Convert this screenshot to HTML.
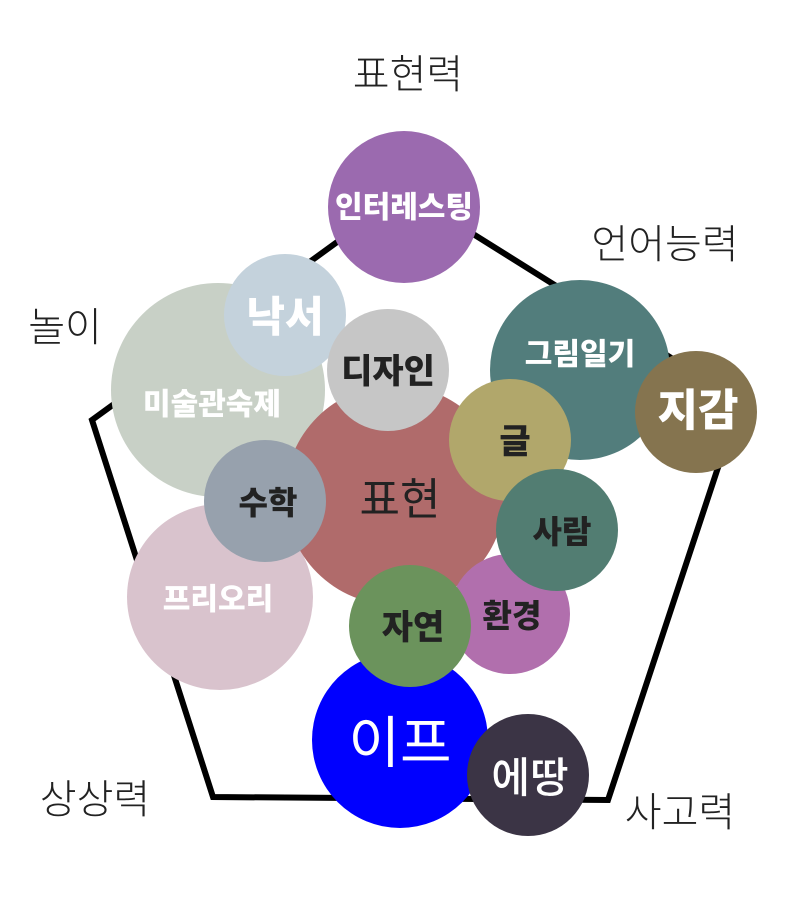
<!DOCTYPE html>
<html><head><meta charset="utf-8"><style>
html,body{margin:0;padding:0;background:#fff;}
svg{display:block;}
text{font-family:"Liberation Sans","Noto Sans CJK KR",sans-serif;text-anchor:middle;dominant-baseline:central;}
.l{font-weight:300;fill:#222;font-size:40px;}
.b{font-weight:900;}
</style></head><body>
<svg width="800" height="897" viewBox="0 0 800 897" xmlns="http://www.w3.org/2000/svg">
<polygon points="406,192 740,401 608,800 213,797 92,420" fill="none" stroke="#000" stroke-width="6"/>
<text class="l" x="408" y="75">표현력</text>
<text class="l" x="665" y="245">언어능력</text>
<text class="l" x="65" y="328">놀이</text>
<text class="l" x="95" y="800">상상력</text>
<text class="l" x="680" y="813">사고력</text>

<circle cx="404" cy="207" r="76" fill="#9b6aaf"/>
<text class="b" x="404" y="208" font-size="30" fill="#fff">인터레스팅</text>
<circle cx="218" cy="390" r="107" fill="#c8d0c6"/>
<circle cx="285" cy="315" r="61" fill="#c4d2dc"/>
<text class="b" x="285" y="317" font-size="42" fill="#fff">낙서</text>
<text class="b" x="212" y="405" font-size="30" fill="#fff">미술관숙제</text>
<circle cx="220" cy="597" r="93" fill="#d9c3cd"/>
<text class="b" x="218" y="600" font-size="30" fill="#fff">프리오리</text>
<circle cx="395" cy="495" r="110" fill="#b06b6b"/>
<text x="400" y="500" font-size="44" fill="#222">표현</text>
<circle cx="388" cy="370" r="61" fill="#c6c6c6"/>
<text class="b" x="388" y="372" font-size="34" fill="#222">디자인</text>
<circle cx="265" cy="501" r="61" fill="#97a1ad"/>
<text class="b" x="268" y="503" font-size="32" fill="#222">수학</text>
<circle cx="580" cy="370" r="90" fill="#527d7c"/>
<text class="b" x="580" y="355" font-size="30" fill="#fff">그림일기</text>
<circle cx="696" cy="412" r="61" fill="#85744f"/>
<text class="b" x="698" y="411" font-size="44" fill="#fff">지감</text>
<circle cx="510" cy="440" r="61" fill="#b1a76b"/>
<text class="b" x="515" y="442" font-size="34" fill="#222">글</text>
<circle cx="510" cy="614" r="60" fill="#b16fad"/>
<text class="b" x="512" y="616" font-size="32" fill="#222">환경</text>
<circle cx="557" cy="530" r="61" fill="#527d72"/>
<text class="b" x="562" y="532" font-size="32" fill="#222">사람</text>
<circle cx="400" cy="740" r="88" fill="#0000ff"/>
<text x="400" y="743" font-size="56" fill="#fff">이프</text>
<circle cx="410" cy="626" r="61" fill="#6b935c"/>
<text class="b" x="413" y="628" font-size="34" fill="#222">자연</text>
<circle cx="528" cy="775" r="61" fill="#3b3445"/>
<text x="530" y="778" font-size="42" font-weight="500" fill="#fff">에땅</text>
</svg>
</body></html>
